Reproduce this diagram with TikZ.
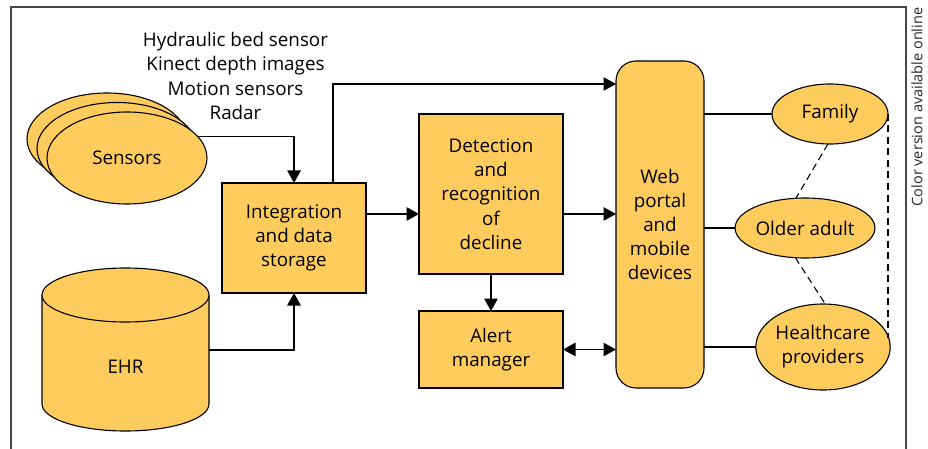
\documentclass[tikz,border=0pt]{standalone}
\usepackage{fontspec}
\setmainfont{Open Sans}
\usetikzlibrary{arrows.meta,shapes.geometric}
\definecolor{boxfill}{RGB}{254,204,92}
\definecolor{framegray}{RGB}{72,72,72}
\begin{document}
\begin{tikzpicture}[x=1pt,y=1pt,
  every node/.style={font=\fontsize{18.8}{24.2}\selectfont, align=center},
  blk/.style={draw, fill=boxfill, line width=1.1pt, inner sep=0pt, outer sep=0pt},
  oval/.style={blk, ellipse},
  tip/.tip={Triangle[length=12.5pt,width=13.5pt]},
  arr/.style={line width=1.1pt, -tip},
  biarr/.style={line width=1.1pt, tip-tip},
  link/.style={line width=1.1pt},
  dlink/.style={line width=1.1pt, dash pattern=on 7pt off 4.5pt}]
\useasboundingbox (0,0) rectangle (928,-449);

% open frame
\draw[framegray, line width=1.6pt] (11,-449) -- (11,-7) -- (906,-7) -- (906,-449);
\node[rotate=90, font=\fontsize{14.5}{17}\selectfont, text=black!85] (note) at (917,-107)
  {Color version available online};

% sensor sources
\node (srclist) at (235.5,-76)
  {Hydraulic bed sensor\\Kinect depth images\\Motion sensors\\Radar};
\node[oval, minimum width=160pt, minimum height=92pt] (sensC) at (107,-139) {};
\node[oval, minimum width=160pt, minimum height=92pt] (sensB) at (117,-148.5) {};
\node[oval, minimum width=160pt, minimum height=92pt] (sens) at (127,-158) {Sensors};

% EHR database
\filldraw[fill=boxfill, line width=1.1pt] (42,-295) -- (42,-404)
  arc[start angle=180, end angle=360, x radius=83.5, y radius=27] -- (209,-295);
\filldraw[fill=boxfill, line width=1.1pt] (125.5,-295) ellipse[x radius=83.5, y radius=27];
\node (ehr) at (125.5,-367) {EHR};
\coordinate (ehrR) at (209,-350);

% processing blocks
\node[blk, minimum width=144pt, minimum height=110pt] (integ) at (294,-238)
  {Integration\\and data\\storage};
\node[blk, minimum width=144pt, minimum height=160pt] (detect) at (491,-194)
  {Detection\\and\\recognition\\of\\decline};
\node[blk, minimum width=144pt, minimum height=77pt] (alert) at (491,-349.5)
  {Alert\\manager};
\node[blk, rounded corners=20pt, minimum width=88pt, minimum height=327pt] (web) at (660,-224.5)
  {Web\\portal\\and\\mobile\\devices};

% recipients
\node[oval, minimum width=116pt, minimum height=60pt] (fam) at (830,-114) {Family};
\node[oval, minimum width=138pt, minimum height=60pt] (older) at (805,-228) {Older adult};
\node[oval, minimum width=134pt, minimum height=86pt] (hc) at (823,-347) {Healthcare\\providers};

% data flow
\draw[arr] (sens.17) -| (integ.north);
\draw[arr] (ehrR) -| (integ.south);
\draw[arr] ([xshift=39pt]integ.north) |- ([yshift=-23pt]web.north west);
\draw[arr] ([yshift=24pt]integ.east) -- ([yshift=24pt]integ.east -| detect.west);
\draw[arr] ([yshift=-20pt]detect.east) -- ([yshift=-20pt]detect.east -| web.west);
\draw[arr] (detect.south) -- (alert.north);
\draw[biarr] (alert.east) -- (alert.east -| web.west);

% portal links
\draw[link] (web.east |- fam.west) -- (fam.west);
\draw[link] (web.east |- older.west) -- (older.west);
\draw[link] (web.east |- hc.west) -- (hc.west);

% relations among recipients
\draw[dlink] (fam.266) -- (older.107);
\draw[dlink] (older.252) -- (hc.87);
\draw[dlink] (fam.east) -- (fam.east |- hc.8);
\end{tikzpicture}
\end{document}
